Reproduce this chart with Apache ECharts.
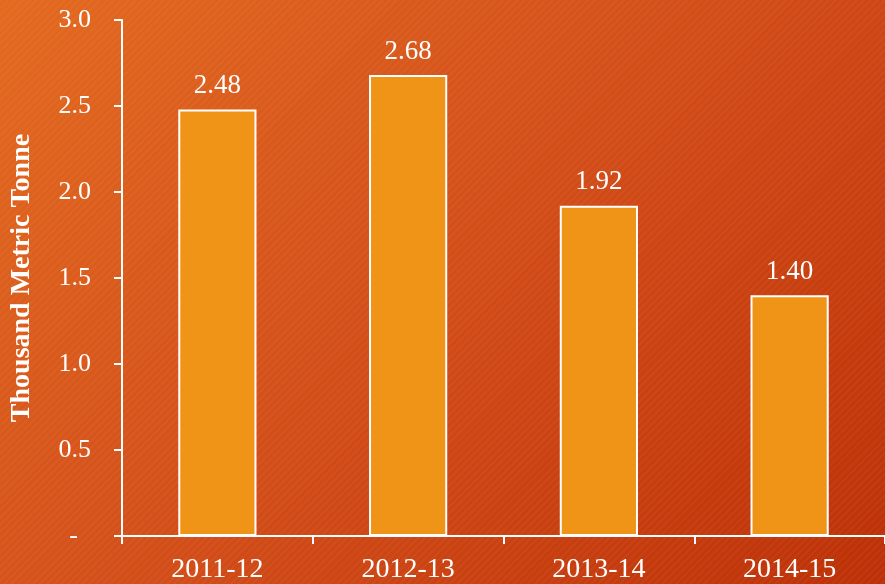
<!DOCTYPE html>
<html>
<head>
<meta charset="utf-8">
<script src="https://cdn.jsdelivr.net/npm/echarts@6/dist/echarts.min.js"></script>
<style>
  html, body { margin: 0; padding: 0; }
  body {
    width: 885px;
    height: 584px;
    background:
      repeating-linear-gradient(135deg, rgba(255,255,255,0.035) 0 2px, rgba(0,0,0,0) 2px 5px),
      linear-gradient(135deg, #e36a1f 0%, #d4501a 45%, #bd3007 100%);
  }
  #chart { width: 885px; height: 584px; }
</style>
</head>
<body>
<div id="chart"></div>
<script>
// 年份
const years = ["2011-12", "2012-13", "2013-14", "2014-15"];
// 数值 (千公吨)
const values = [2.48, 2.68, 1.92, 1.40];
const yTicks = { min: 0, max: 3, interval: 0.5 };

const serif = "'Liberation Serif', 'DejaVu Serif', serif";

let myChart = echarts.init(document.getElementById("chart"));
myChart.setOption({
  backgroundColor: "transparent",
  animation: false,
  grid: {
    left: 119,
    top: 20,
    right: -4,
    bottom: 47
  },
  xAxis: {
    type: "category",
    data: years,
    axisLine: { lineStyle: { color: "#fff", width: 2 } },
    axisTick: { show: true, length: 8, lineStyle: { color: "#fff", width: 2 } },
    axisLabel: {
      color: "#fff",
      fontFamily: serif,
      fontSize: 28,
      margin: 20
    }
  },
  yAxis: {
    type: "value",
    min: yTicks.min,
    max: yTicks.max,
    interval: yTicks.interval,
    name: "Thousand Metric Tonne",
    nameLocation: "middle",
    nameGap: 86,
    nameTextStyle: {
      color: "#fff",
      fontFamily: serif,
      fontSize: 28,
      fontWeight: "bold"
    },
    splitLine: { show: false },
    axisLine: { show: true, lineStyle: { color: "#fff", width: 2 } },
    axisTick: { show: true, length: 8, lineStyle: { color: "#fff", width: 2 } },
    axisLabel: {
      color: "#fff",
      fontFamily: serif,
      fontSize: 26,
      margin: 31,
      formatter: function (v) {
        return v === 0 ? "-  " : v.toFixed(1);
      }
    }
  },
  series: [
    {
      type: "bar",
      data: values,
      barWidth: "41%",
      itemStyle: {
        color: "#f09418",
        borderColor: "#fff",
        borderWidth: 2
      },
      label: {
        show: true,
        position: "top",
        distance: 10,
        color: "#fff",
        fontFamily: serif,
        fontSize: 27,
        formatter: function (p) {
          return p.value.toFixed(2);
        }
      }
    }
  ]
});
</script>
</body>
</html>
